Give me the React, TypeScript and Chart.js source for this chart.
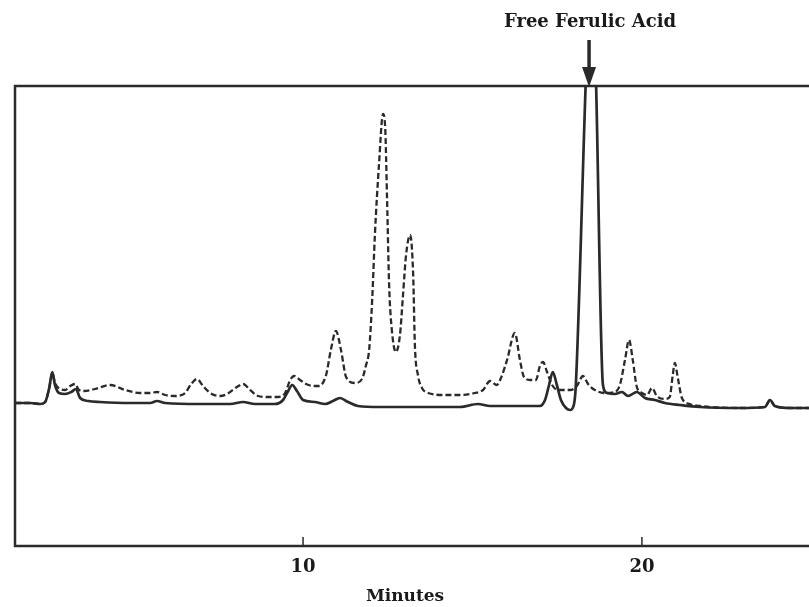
import React, { useEffect, useRef } from "react";
import { Chart, registerables } from "chart.js";

Chart.register(...registerables);

// Retention time (minutes) and detector response (arbitrary units) — solid trace
const solidTime = [
  1.5, 1.95, 2.24, 2.39, 2.51, 2.6, 2.68, 2.8, 2.98, 3.16, 3.3, 3.42, 3.66, 4.01, 4.9, 5.49, 5.69, 5.93,
  6.96, 7.85, 8.23, 8.58, 9.17, 9.41, 9.56, 9.68, 9.82, 10.0, 10.35, 10.65, 10.88, 11.09, 11.33, 11.62,
  12.27, 13.45, 14.63, 15.16, 15.52, 16.4, 16.99, 17.14, 17.26, 17.37, 17.49, 17.61, 17.76, 17.88, 17.99,
  18.05, 18.35, 18.5, 18.64, 18.85, 18.97, 19.2, 19.41, 19.59, 19.85, 20.09, 20.38, 20.68, 21.12, 21.71,
  22.89, 23.63, 23.78, 23.92, 24.37, 25.55,
];
const solidSignal = [
  2, 2, 1, 3, 17, 33, 20, 12, 11, 13, 16, 7, 4, 3, 2, 2, 4, 2,
  1, 1, 3, 1, 1, 5, 14, 20, 14, 5, 3, 1, 4, 7, 3, -1,
  -2, -2, -2, 1, -1, -1, -1, 5, 20, 33, 20, 5, -3, -5, 0,
  20, 330, 450, 330, 20, 12, 11, 13, 9, 13, 7, 5, 2, 0, -2,
  -3, -2, 5, -1, -3, -3,
];

// Dashed trace
const dashedTime = [
  1.5, 1.95, 2.24, 2.39, 2.51, 2.6, 2.68, 2.83, 2.98, 3.13, 3.27, 3.39, 3.54, 3.86, 4.31, 4.75, 5.19, 5.49,
  5.69, 5.93, 6.22, 6.52, 6.7, 6.87, 7.05, 7.26, 7.55, 7.76, 8.05, 8.23, 8.44, 8.67, 8.97, 9.26, 9.47,
  9.62, 9.74, 9.91, 10.09, 10.32, 10.47, 10.68, 10.82, 10.97, 11.12, 11.27, 11.53, 11.74, 11.86, 11.95,
  12.04, 12.12, 12.24, 12.36, 12.42, 12.48, 12.54, 12.62, 12.74, 12.86, 12.95, 13.04, 13.16, 13.25, 13.3,
  13.39, 13.51, 13.69, 14.19, 14.63, 15.07, 15.31, 15.52, 15.72, 15.84, 16.02, 16.25, 16.4, 16.52,
  16.7, 16.87, 16.99, 17.08, 17.2, 17.35, 17.52, 17.88, 18.08, 18.26, 18.41, 18.61, 18.91, 19.2, 19.35,
  19.5, 19.62, 19.73, 19.85, 20.0, 20.15, 20.3, 20.44, 20.68, 20.82, 20.91, 20.97, 21.06, 21.18, 21.41,
  21.71, 22.89, 23.63, 23.78, 23.92, 24.37, 25.55,
];
const dashedSignal = [
  2, 2, 1, 3, 17, 32, 22, 16, 15, 19, 21, 15, 14, 16, 20, 15, 12, 12,
  13, 10, 9, 12, 21, 26, 19, 12, 9, 11, 18, 21, 15, 9, 8, 8, 12,
  25, 29, 25, 21, 19, 19, 30, 55, 74, 55, 28, 22, 26, 40, 55,
  105, 170, 240, 291, 280, 205, 120, 75, 53, 70, 110, 150, 170, 130, 60,
  30, 17, 12, 10, 10, 12, 15, 24, 20, 27, 45, 72, 45, 28,
  25, 25, 39, 43, 33, 20, 15, 15, 19, 29, 21, 15, 12, 13, 20,
  45, 65, 45, 18, 12, 10, 17, 9, 6, 8, 30, 42, 27, 7, 1,
  -1, -3, -2, 5, -1, -3, -3,
];

const xTickValues = [10, 20];
const xAxisLabel = "Minutes";
const peakLabel = "Free Ferulic Acid";
const peakTime = 18.44;

const INK = "#2a2a2a";
const SERIF = '"DejaVu Serif", "Liberation Serif", serif';

const framePlugin = {
  id: "frameAndNotes",
  afterDraw(chart: any) {
    const { ctx, chartArea, scales } = chart;
    const xs = scales.x;
    ctx.save();
    // frame
    ctx.strokeStyle = INK;
    ctx.lineWidth = 2.5;
    ctx.strokeRect(chartArea.left, chartArea.top, chartArea.right - chartArea.left, chartArea.bottom - chartArea.top);
    // inward tick marks
    ctx.lineWidth = 1.5;
    xTickValues.forEach((v) => {
      const px = xs.getPixelForValue(v);
      ctx.beginPath();
      ctx.moveTo(px, chartArea.bottom);
      ctx.lineTo(px, chartArea.bottom - 9);
      ctx.stroke();
    });
    // axis title
    ctx.fillStyle = "#1a1a1a";
    ctx.font = `bold 17px ${SERIF}`;
    ctx.textAlign = "center";
    ctx.textBaseline = "middle";
    ctx.fillText(xAxisLabel, 405, 597);
    // peak annotation
    const ax = xs.getPixelForValue(peakTime);
    ctx.font = `bold 18px ${SERIF}`;
    ctx.fillText(peakLabel, ax + 1, 22);
    ctx.lineWidth = 3.5;
    ctx.beginPath();
    ctx.moveTo(ax, 40);
    ctx.lineTo(ax, 72);
    ctx.stroke();
    ctx.fillStyle = INK;
    ctx.beginPath();
    ctx.moveTo(ax - 7, 67);
    ctx.lineTo(ax + 7, 67);
    ctx.lineTo(ax, chartArea.top + 1);
    ctx.closePath();
    ctx.fill();
    ctx.restore();
  },
};

export default function App() {
  const ref = useRef<HTMLCanvasElement | null>(null);
  useEffect(() => {
    if (!ref.current) return;
    const solid = solidTime.map((t, i) => ({ x: t, y: solidSignal[i] }));
    const dashed = dashedTime.map((t, i) => ({ x: t, y: dashedSignal[i] }));
    const chart = new Chart(ref.current, {
      type: "line",
      data: {
        datasets: [
          {
            data: dashed,
            borderColor: INK,
            borderWidth: 2.3,
            borderDash: [6, 3],
            pointRadius: 0,
            cubicInterpolationMode: "monotone",
            clip: 0,
          },
          {
            data: solid,
            borderColor: INK,
            borderWidth: 2.7,
            pointRadius: 0,
            cubicInterpolationMode: "monotone",
            clip: 0,
          },
        ],
      },
      options: {
        responsive: false,
        animation: false,
        devicePixelRatio: 1,
        layout: { padding: { top: 86, left: 15, right: 0, bottom: 0 } },
        plugins: { legend: { display: false }, tooltip: { enabled: false } },
        scales: {
          x: {
            type: "linear",
            min: 1.5,
            max: 25.55,
            grid: { display: false, drawTicks: false },
            border: { display: false },
            afterBuildTicks: (scale: any) => {
              scale.ticks = xTickValues.map((v) => ({ value: v }));
            },
            afterFit: (scale: any) => {
              scale.height = 61;
            },
            ticks: {
              color: "#1a1a1a",
              font: { family: SERIF, size: 18, weight: "bold" },
              padding: 11,
              maxRotation: 0,
              callback: (v: any) => String(v),
            },
          },
          y: { display: false, min: -141, max: 319 },
        },
      },
      plugins: [framePlugin],
    } as any);
    return () => chart.destroy();
  }, []);
  return (
    <div style={{ position: "fixed", left: 0, top: 0, width: 809, height: 607, overflow: "hidden", background: "#fff" }}>
      <canvas ref={ref} width={830} height={607} style={{ display: "block", width: 830, height: 607 }} />
    </div>
  );
}
